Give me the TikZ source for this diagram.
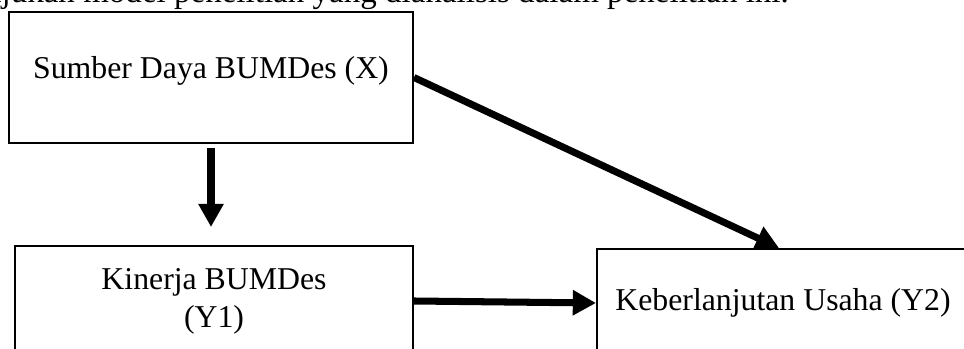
\documentclass[tikz,border=0pt]{standalone}
\usepackage{fontspec}
\setmainfont{Liberation Serif}
\usepackage{tikz}
\usetikzlibrary{arrows.meta, positioning, calc}
\tikzstyle{varbox} = [rectangle, draw=black, line width=1.4pt, fill=white, inner sep=0pt, align=center, font=\fontsize{22.6}{27.1}\selectfont]
\tikzstyle{varlabel} = [inner sep=0pt, font=\fontsize{22.6}{27.1}\selectfont]
\tikzstyle{arrow} = [line width=5pt, -{Triangle[length=0.58cm, width=0.6cm]}]

\begin{document}
\begin{tikzpicture}

\useasboundingbox (0,0) rectangle (24.1,8.725);
\clip (0,0) rectangle (24.1,8.725);

% Cut-off line of the running text above the figure
\node[varlabel, anchor=base west, font=\fontsize{23.5}{28}\selectfont] (intro) at (-0.38,8.65) {njukan model penelitian yang dianalisis dalam penelitian ini.};

% Boxes
\node[varbox, minimum width=10.1cm, minimum height=3.275cm] (X) at (5.275,6.7875) {};
\node[varlabel, anchor=base] (Xlabel) at (5.275,6.75) {Sumber Daya BUMDes (X)};

\node[varbox, minimum width=9.95cm, minimum height=2.75cm] (Y1) at (5.35,1.2) {Kinerja BUMDes\\(Y1)};

\node[varbox, minimum width=9.3cm, minimum height=2.7cm] (Y2) at (19.575,1.15) {Keberlanjutan Usaha (Y2)};

% Arrows
\draw[arrow, shorten <=0.1cm, shorten >=0.45cm] (X.south) -- (X.south |- Y1.north);
\draw[arrow] (X.east) -- ([xshift=4.575cm]Y2.north west);
\draw[arrow] (Y1.east) -- (Y2.west);

\end{tikzpicture}
\end{document}
